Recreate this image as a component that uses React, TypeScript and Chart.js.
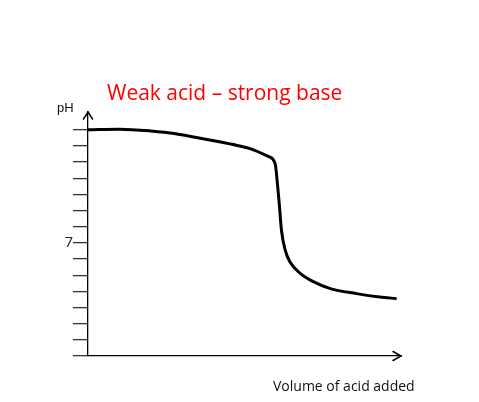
import React, { useEffect, useRef } from "react";
import { Chart, registerables } from "chart.js";

Chart.register(...registerables);

// Volume of acid added (arbitrary units) and pH
const VOLUME = [0, 5, 10, 14, 19, 23, 26, 28.8, 29.9, 30.2, 30.6, 30.9, 31.5, 32.3, 33.8, 36, 38.7, 42.9, 46.6, 49.3];
const PH = [14.0, 14.04, 13.93, 13.76, 13.4, 13.1, 12.82, 12.35, 11.9, 10.9, 9.2, 7.8, 6.55, 5.8, 5.15, 4.6, 4.17, 3.86, 3.65, 3.55];
const Y_TICKS = [0, 1, 2, 3, 4, 5, 6, 7, 8, 9, 10, 11, 12, 13, 14];
const LABELED_TICK = 7;
const TITLE = "Weak acid \u2013 strong base";
const Y_LABEL = "pH";
const X_LABEL = "Volume of acid added";

const annotations = {
  id: "sketchAnnotations",
  afterDraw(chart: any) {
    const { ctx, chartArea } = chart;
    const { left, right, top, bottom } = chartArea;
    ctx.save();
    // arrow heads
    ctx.strokeStyle = "#000";
    ctx.lineWidth = 1.5;
    ctx.lineCap = "round";
    ctx.lineJoin = "miter";
    ctx.beginPath();
    ctx.moveTo(left - 4.5, top + 7);
    ctx.lineTo(left, top);
    ctx.lineTo(left + 4.5, top + 7);
    ctx.stroke();
    ctx.beginPath();
    ctx.moveTo(right - 8, bottom - 4.5);
    ctx.lineTo(right, bottom);
    ctx.lineTo(right - 8, bottom + 4.5);
    ctx.stroke();
    // title
    ctx.fillStyle = "#ff0000";
    ctx.font = '21px "Open Sans"';
    ctx.textAlign = "left";
    ctx.textBaseline = "alphabetic";
    ctx.fillText(TITLE, 107, 100);
    // axis labels
    ctx.fillStyle = "#111";
    ctx.font = '13px "Liberation Sans"';
    ctx.fillText(Y_LABEL, 57, 112);
    ctx.font = '14px "Open Sans"';
    ctx.fillText(X_LABEL, 273, 391);
    ctx.restore();
  },
};

export default function App() {
  const ref = useRef<HTMLCanvasElement>(null);
  useEffect(() => {
    document.body.style.margin = "0";
    const canvas = ref.current!;
    const chart = new Chart(canvas, {
      type: "line",
      data: {
        datasets: [
          {
            data: VOLUME.map((v, i) => ({ x: v, y: PH[i] })),
            borderColor: "#000",
            borderWidth: 3,
            pointRadius: 0,
            cubicInterpolationMode: "monotone",
            clip: false as any,
            fill: false,
          },
        ],
      },
      options: {
        responsive: false,
        animation: false,
        events: [],
        layout: { padding: { left: 0, right: 78, top: 112, bottom: 46 } },
        plugins: { legend: { display: false }, tooltip: { enabled: false }, title: { display: false } },
        scales: {
          x: {
            type: "linear",
            min: 0,
            max: 50,
            ticks: { display: false },
            grid: { display: false, drawTicks: false },
            border: { display: true, color: "#000", width: 1.3 },
            afterFit: (s: any) => {
              s.height = 0;
            },
          },
          y: {
            type: "linear",
            min: 0,
            max: 15.1,
            afterBuildTicks: (s: any) => {
              s.ticks = Y_TICKS.map((v) => ({ value: v }));
            },
            afterFit: (s: any) => {
              s.width = 88;
            },
            ticks: {
              autoSkip: false,
              callback: (v: any) => (Number(v) === LABELED_TICK ? String(LABELED_TICK) : ""),
              padding: 0,
              color: "#222",
              font: { family: "Open Sans", size: 15 },
            },
            grid: { drawOnChartArea: false, drawTicks: true, tickLength: 15, color: "#333", lineWidth: 1.3 },
            border: { display: true, color: "#000", width: 1.3 },
          },
        },
      },
      plugins: [annotations],
    });
    return () => chart.destroy();
  }, []);
  return <canvas ref={ref} width={479} height={402} style={{ display: "block", width: 479, height: 402 }} />;
}
